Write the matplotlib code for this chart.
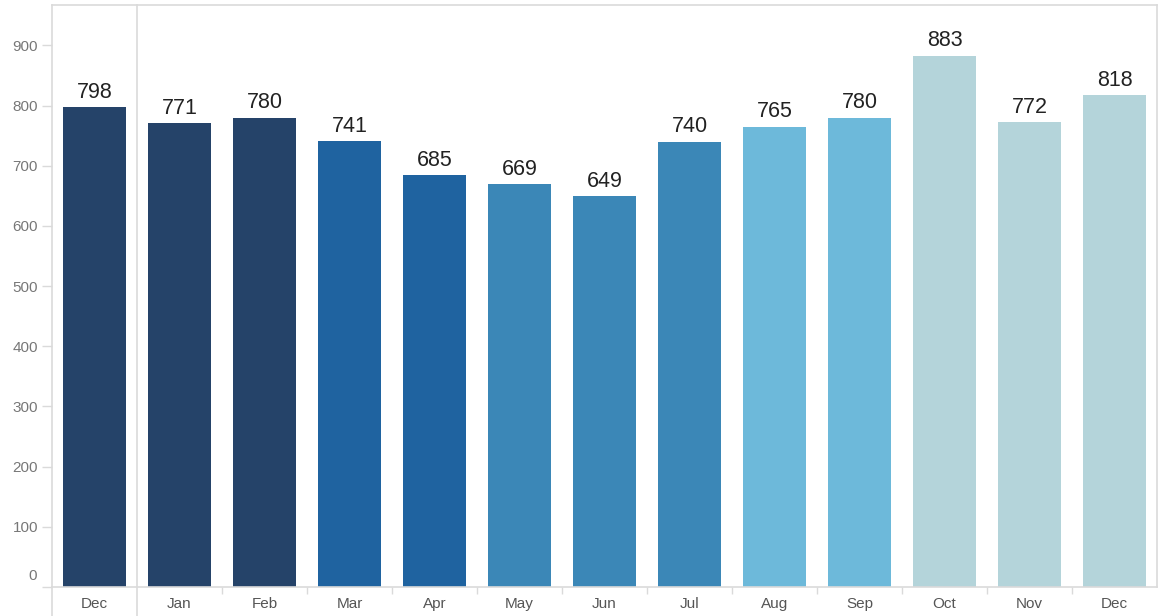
import matplotlib
matplotlib.use("Agg")
import matplotlib.pyplot as plt
import numpy as np
from matplotlib.ticker import FixedLocator

months = ["Dec", "Jan", "Feb", "Mar", "Apr", "May", "Jun", "Jul", "Aug", "Sep", "Oct", "Nov", "Dec"]
values = [798, 771, 780, 741, 685, 669, 649, 740, 765, 780, 883, 772, 818]
bar_colors = ["#254369", "#254369", "#254369", "#1f63a0", "#1f63a0",
              "#3b87b7", "#3b87b7", "#3b87b7", "#6db9da", "#6db9da",
              "#b4d4da", "#b4d4da", "#b4d4da"]
yticks = [0, 100, 200, 300, 400, 500, 600, 700, 800, 900]

plt.rcParams['font.family'] = ['Liberation Sans', 'DejaVu Sans']

W, H = 1161, 616
fig = plt.figure(figsize=(W / 100, H / 100), dpi=100)
ax = fig.add_axes([52 / W, 29 / H, (1157 - 52) / W, (587 - 5) / H])

x = np.arange(len(months))
ax.bar(x, values, width=0.75, color=bar_colors, zorder=2)
for xi, v in zip(x, values):
    ax.annotate(str(v), xy=(xi, v), xytext=(0, 3), textcoords="offset points",
                ha="center", va="bottom", fontsize=15.5, color="#222222")

ax.set_xlim(-0.5, len(months) - 0.5)
ax.set_ylim(0, 967)

grey = "#dadada"
for s in ax.spines.values():
    s.set_color(grey)
    s.set_linewidth(1.2)

ax.set_yticks(yticks)
ax.set_yticklabels([""] + [str(t) for t in yticks[1:]])
ax.tick_params(axis="y", length=7, width=1, color=grey, colors="#777777",
               labelsize=11, pad=3)
ax.tick_params(axis="y", color=grey)
ax.annotate("0", xy=(0, 0), xycoords="axes fraction", xytext=(-11, 3),
            textcoords="offset points", ha="right", va="bottom",
            fontsize=11, color="#777777")

ax.set_xticks(x)
ax.set_xticklabels(months)
ax.tick_params(axis="x", length=0, labelsize=11, colors="#555555", pad=7)
ax.xaxis.set_minor_locator(FixedLocator(np.arange(1.5, len(months) - 1, 1.0)))
ax.tick_params(axis="x", which="minor", length=5, width=1, color=grey)

# full-height separator between first Dec and Jan, and left spine extension
ax.plot([0.5, 0.5], [-0.06, 1], transform=ax.get_xaxis_transform(),
        color=grey, lw=1.2, clip_on=False, zorder=1)
ax.plot([-0.5, -0.5], [-0.06, 0], transform=ax.get_xaxis_transform(),
        color=grey, lw=1.2, clip_on=False, zorder=1)

fig.savefig("out.png", dpi=100)
